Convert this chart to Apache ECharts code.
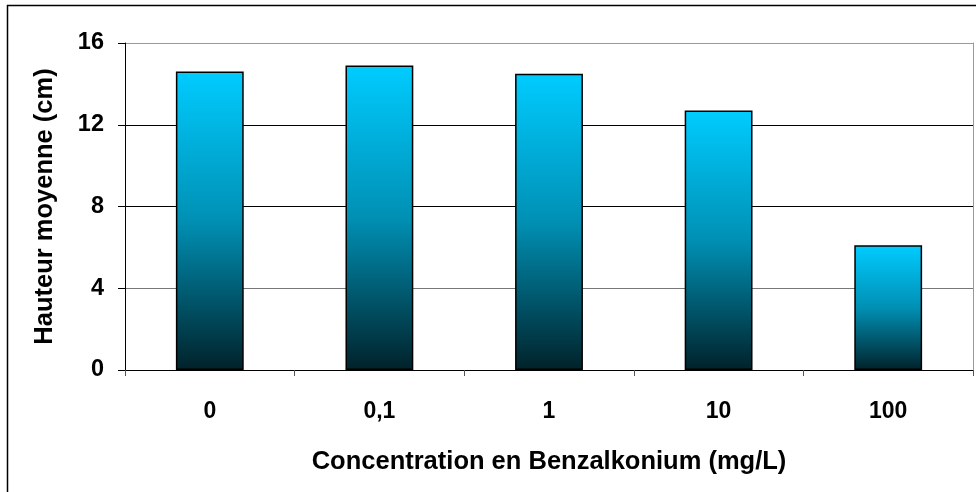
<!DOCTYPE html>
<html><head><meta charset="utf-8">
<script src="https://cdn.jsdelivr.net/npm/echarts@6/dist/echarts.min.js"></script>
<style>html,body{margin:0;padding:0;background:#fff}#c{width:976px;height:492px}</style>
</head><body><div id="c"></div>
<script>
const categories = ['0', '0,1', '1', '10', '100'];
const hauteur = [14.6, 14.9, 14.5, 12.7, 6.1];
const yTicks = { min: 0, max: 16, interval: 4 };
const xTitle = 'Concentration en Benzalkonium (mg/L)';
const yTitle = 'Hauteur moyenne (cm)';

const chart = echarts.init(document.getElementById('c'), null, { renderer: 'canvas' });
const font = 'Liberation Sans, Arial, sans-serif';
chart.setOption({
  animation: false,
  backgroundColor: '#fff',
  graphic: [{
    type: 'rect', left: 5, top: 3, silent: true,
    shape: { width: 990, height: 500 },
    style: { fill: 'none', stroke: '#000', lineWidth: 1.5 }
  }],
  grid: { left: 125, right: 3, top: 43, bottom: 122 },
  xAxis: {
    type: 'category', data: categories, boundaryGap: true,
    axisLine: { lineStyle: { color: '#000', width: 1 } },
    axisTick: { show: true, length: 6, alignWithLabel: false, lineStyle: { color: '#555' } },
    axisLabel: { color: '#000', fontFamily: font, fontWeight: 'bold', fontSize: 23, margin: 30 },
    name: xTitle, nameLocation: 'middle', nameGap: 79,
    nameTextStyle: { color: '#000', fontFamily: font, fontWeight: 'bold', fontSize: 25.5 }
  },
  yAxis: [{
    type: 'value', min: yTicks.min, max: yTicks.max, interval: yTicks.interval,
    axisLine: { show: true, lineStyle: { color: '#000', width: 1 } },
    axisTick: { show: true, length: 7, lineStyle: { color: '#000' } },
    axisLabel: { color: '#000', fontFamily: font, fontWeight: 'bold', fontSize: 23.5, margin: 21 },
    splitLine: { show: true, lineStyle: { color: ['#000', '#777', '#000', '#000', '#999'], width: 1 } },
    name: yTitle, nameLocation: 'middle', nameGap: 67, nameRotate: 90,
    nameTextStyle: { color: '#000', fontFamily: font, fontWeight: 'bold', fontSize: 25.5 }
  }, {
    type: 'value', position: 'right', min: yTicks.min, max: yTicks.max, interval: yTicks.interval,
    axisLine: { show: true, lineStyle: { color: '#999', width: 1 } },
    axisTick: { show: false }, axisLabel: { show: false }, splitLine: { show: false }
  }],
  series: [{
    type: 'bar', data: hauteur, barWidth: '40%', yAxisIndex: 0,
    itemStyle: {
      color: new echarts.graphic.LinearGradient(0, 0, 0, 1, [
        { offset: 0, color: '#00CCFF' },
        { offset: 0.5, color: '#0090B4' },
        { offset: 1, color: '#01222A' }
      ]),
      borderColor: '#000', borderWidth: 1.5
    }
  }]
});
</script></body></html>
